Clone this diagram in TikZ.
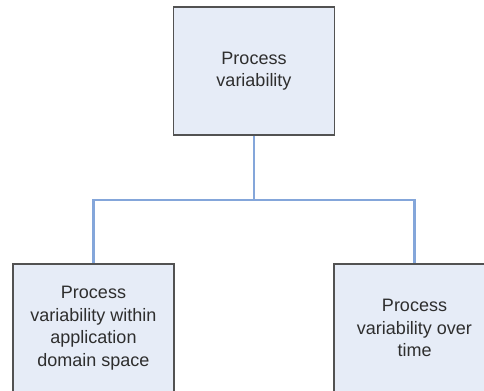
\documentclass[tikz,border=0pt]{standalone}
\usepackage{fontspec}
\setmainfont{Liberation Sans}
\begin{document}
\begin{tikzpicture}[x=1bp,y=-1bp,
  box/.style={draw=black!68, line width=1.8bp, fill={rgb,255:red,230;green,236;blue,247},
    minimum width=161bp, minimum height=128bp, inner sep=0pt, align=center,
    text=black!82, font=\fontsize{18bp}{22.5bp}\selectfont},
  link/.style={draw={rgb,255:red,132;green,166;blue,218}, line width=2.3bp}]
\useasboundingbox (0,0) rectangle (484,390);
\clip (0,0) rectangle (484,390);
\node[box] (top) at (254,71) {Process\\variability};
\node[box] (left) at (93.5,328) {Process\\variability within\\application\\domain space};
\node[box] (right) at (414.5,328) {Process\\variability over\\time};
\coordinate (bus) at (254,200);
\draw[link] (top.south) -- (bus);
\draw[link] (left.north) |- (bus) -| (right.north);
\end{tikzpicture}
\end{document}
